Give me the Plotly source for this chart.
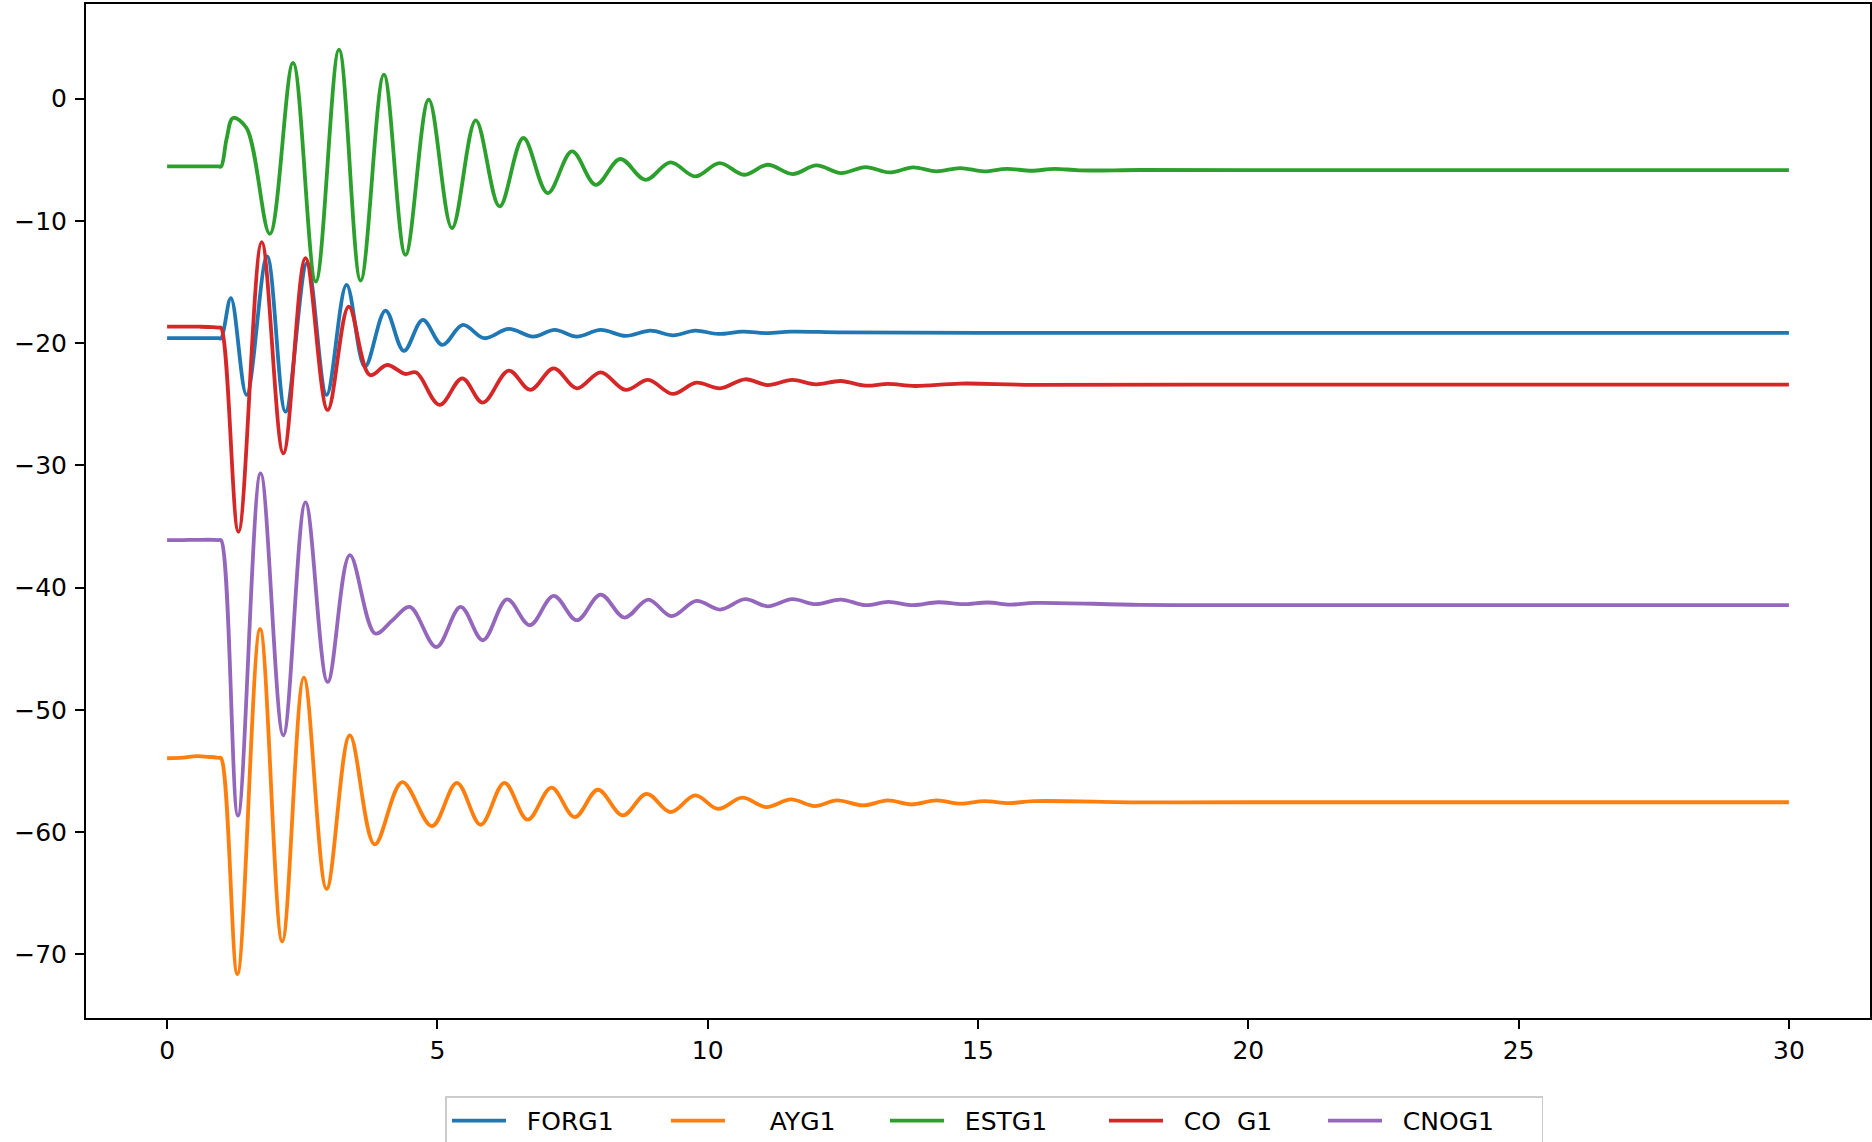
import plotly.graph_objects as go

# ---- data (time in s, values) ----
T_FORG1 = [0, 0.3, 0.6, 0.85, 0.95, 1.0, 1.18, 1.47, 1.85, 2.19, 2.59, 2.95, 3.32, 3.66, 4.04, 4.38, 4.73,
           5.09, 5.47, 5.87, 6.32, 6.77, 7.17, 7.58, 8.02, 8.48, 8.94, 9.36, 9.77, 10.19, 10.65, 11.11,
           11.54, 12.5, 15, 20, 25, 30]
FORG1 = [-19.59, -19.59, -19.59, -19.59, -19.59, -19.59, -16.31, -24.23, -12.9, -25.6, -13.45, -24.23,
         -15.23, -21.92, -17.33, -20.63, -18.09, -20.14, -18.5, -19.59, -18.83, -19.46, -18.91, -19.46,
         -18.91, -19.4, -18.97, -19.35, -18.97, -19.24, -19.05, -19.18, -19.05, -19.12, -19.15, -19.15,
         -19.15, -19.15]

T_AYG1 = [0, 0.3, 0.55, 0.8, 0.95, 1.0, 1.30, 1.72, 2.13, 2.53, 2.95, 3.38, 3.84, 4.35, 4.90, 5.36, 5.80,
          6.24, 6.67, 7.11, 7.54, 7.97, 8.43, 8.87, 9.31, 9.77, 10.19, 10.64, 11.08, 11.54, 11.98, 12.39,
          12.88, 13.33, 13.77, 14.23, 14.68, 15.11, 15.57, 16.03, 18, 20, 25, 30]
AYG1 = [-53.95, -53.9, -53.78, -53.85, -53.92, -53.95, -71.6, -43.4, -68.93, -47.36, -64.64, -52.08,
        -61.0, -55.9, -59.51, -55.96, -59.39, -55.96, -58.98, -56.36, -58.77, -56.53, -58.63, -56.86,
        -58.36, -56.99, -58.09, -57.18, -57.95, -57.32, -57.87, -57.4, -57.81, -57.4, -57.73, -57.4,
        -57.67, -57.46, -57.62, -57.46, -57.56, -57.55, -57.55, -57.55]

T_ESTG1 = [0, 0.3, 0.6, 0.85, 0.95, 1.0, 1.10, 1.22, 1.47, 1.90, 2.33, 2.75, 3.18, 3.58, 4.01, 4.41, 4.84,
           5.27, 5.71, 6.15, 6.59, 7.04, 7.49, 7.93, 8.38, 8.85, 9.31, 9.77, 10.22, 10.67, 11.11, 11.57,
           12.01, 12.47, 12.92, 13.36, 13.80, 14.23, 14.67, 15.11, 15.53, 15.99, 16.42, 16.88, 18.0,
           20.0, 25.0, 30.0]
ESTG1 = [-5.54, -5.54, -5.54, -5.54, -5.54, -5.54, -3.3, -1.57, -2.39, -11.05, 2.93, -14.95, 4.02,
         -14.87, 1.97, -12.77, -0.07, -10.58, -1.77, -8.81, -3.21, -7.72, -4.31, -7.04, -4.93, -6.63,
         -5.21, -6.35, -5.26, -6.22, -5.40, -6.16, -5.45, -6.08, -5.59, -6.03, -5.62, -5.94, -5.67,
         -5.94, -5.73, -5.89, -5.73, -5.86, -5.83, -5.84, -5.84, -5.84]

T_COG1 = [0, 0.3, 0.6, 0.85, 0.95, 1.0, 1.32, 1.75, 2.15, 2.56, 2.97, 3.36, 3.75, 4.07, 4.40, 4.61, 5.04,
          5.46, 5.84, 6.32, 6.72, 7.15, 7.58, 8.02, 8.48, 8.90, 9.35, 9.79, 10.23, 10.69, 11.11, 11.56,
          12.0, 12.46, 12.92, 13.34, 13.83, 14.67, 16, 20, 25, 30]
COG1 = [-18.64, -18.64, -18.65, -18.68, -18.72, -18.75, -35.43, -11.73, -29.01, -13.04, -25.46, -17.0,
        -22.6, -21.78, -22.51, -22.4, -25.05, -22.87, -24.86, -22.24, -23.82, -22.05, -23.69, -22.38,
        -23.82, -23.0, -24.15, -23.23, -23.69, -22.95, -23.42, -23.0, -23.36, -23.09, -23.47, -23.33,
        -23.5, -23.3, -23.4, -23.38, -23.38, -23.38]

T_CNOG1 = [0, 0.3, 0.6, 0.85, 0.95, 1.0, 1.31, 1.73, 2.15, 2.56, 2.97, 3.38, 3.85, 4.17, 4.49, 4.98, 5.43,
           5.84, 6.29, 6.71, 7.15, 7.58, 8.02, 8.46, 8.90, 9.33, 9.79, 10.23, 10.69, 11.11, 11.56, 12.0,
           12.46, 12.92, 13.34, 13.80, 14.26, 14.72, 15.18, 15.6, 16.06, 18, 20, 25, 30]
CNOG1 = [-36.1, -36.1, -36.08, -36.08, -36.1, -36.12, -58.65, -30.65, -52.08, -33.02, -47.71, -37.34,
         -43.75, -42.66, -41.57, -44.85, -41.57, -44.3, -40.95, -43.07, -40.67, -42.66, -40.56, -42.44,
         -40.97, -42.33, -41.08, -41.79, -40.94, -41.52, -40.94, -41.35, -40.97, -41.43, -41.16, -41.43,
         -41.19, -41.35, -41.21, -41.38, -41.24, -41.4, -41.42, -41.43, -41.43]

NB = "\u00a0"
NAMES = [NB * 2 + "FORG1", NB * 5 + "AYG1", NB * 2 + "ESTG1", NB * 2 + "CO" + NB * 2 + "G1", NB * 2 + "CNOG1"]
COLORS = ["#1f77b4", "#ff7f0e", "#2ca02c", "#d62728", "#9467bd"]
SERIES = [(T_FORG1, FORG1), (T_AYG1, AYG1), (T_ESTG1, ESTG1), (T_COG1, COG1), (T_CNOG1, CNOG1)]

X_TICKS = [0, 5, 10, 15, 20, 25, 30]
Y_TICKS = [0, -10, -20, -30, -40, -50, -60, -70]

FONT = "DejaVu Sans"

fig = go.Figure()
for (t, v), name, col in zip(SERIES, NAMES, COLORS):
    fig.add_trace(go.Scatter(x=t, y=v, mode="lines", name=name,
                             line=dict(color=col, width=3.8, shape="spline", smoothing=1.0)))

axis_common = dict(showline=True, mirror=True, linecolor="black", linewidth=2,
                   ticks="outside", ticklen=9, tickwidth=2, tickcolor="black",
                   showgrid=False, zeroline=False,
                   tickfont=dict(family=FONT, size=25, color="black"))

fig.update_layout(
    width=1872, height=1142,
    margin=dict(l=86, r=2, t=4, b=124, autoexpand=False),
    paper_bgcolor="white", plot_bgcolor="white",
    font=dict(family=FONT, size=25, color="black"),
    xaxis=dict(range=[-1.5, 31.5], tickvals=X_TICKS, **axis_common),
    yaxis=dict(range=[-75.2, 7.75], tickvals=Y_TICKS, ticklabelstandoff=3, **axis_common),
    legend=dict(orientation="h", x=0.2015, xanchor="left", y=-0.0773, yanchor="top",
                bgcolor="white", bordercolor="#cccccc", borderwidth=1.5,
                font=dict(family=FONT, size=25, color="black"),
                itemwidth=54, entrywidth=150, entrywidthmode="pixels"),
    showlegend=True,
)

fig.write_html("out.html",
               config={"displayModeBar": False},
               post_script="document.body.style.margin='0';document.body.style.padding='0';"
                           "window.dispatchEvent(new Event('resize'));")
